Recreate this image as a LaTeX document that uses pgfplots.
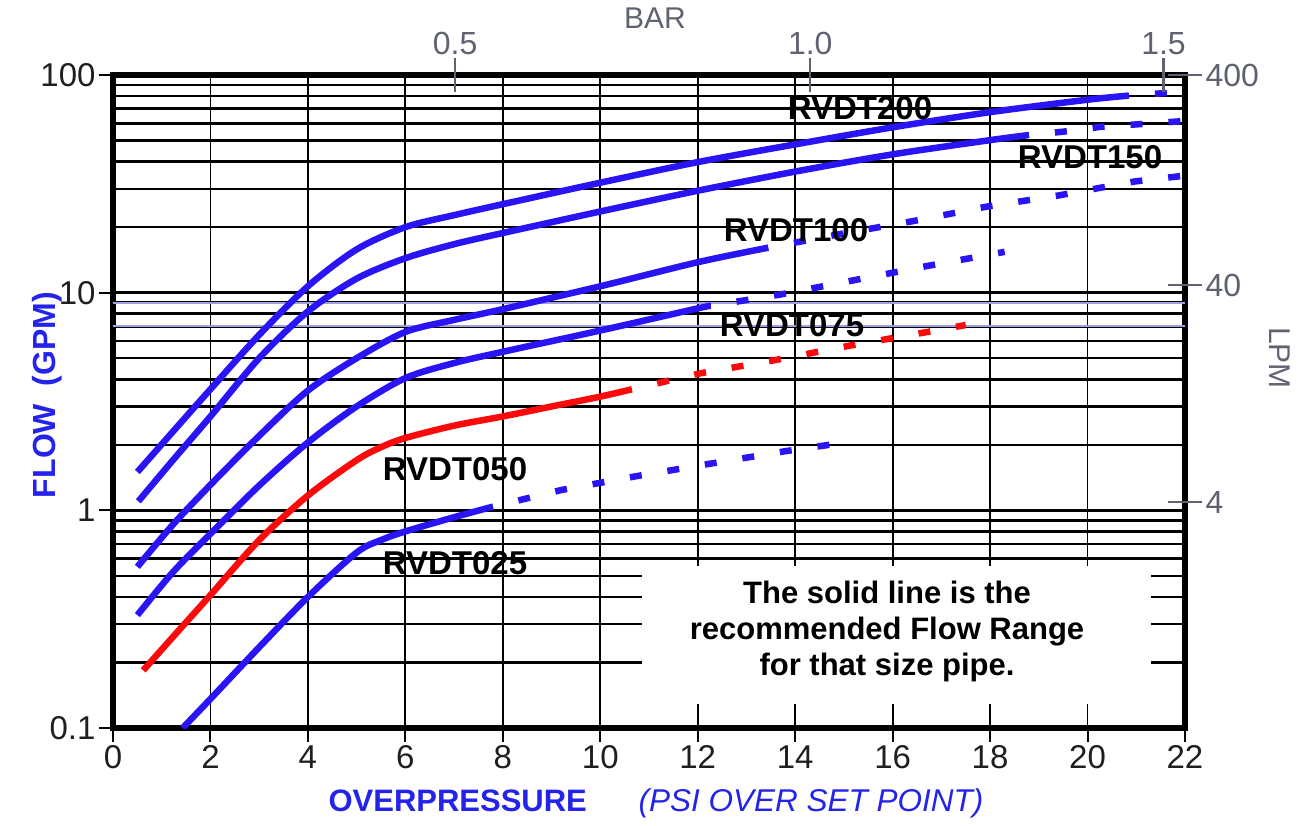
\documentclass[border=0pt]{standalone}
\usepackage{pgfplots}
\pgfplotsset{compat=1.18}
\usepackage{fontspec}
\setmainfont{Liberation Sans}

\definecolor{lineblue}{RGB}{40,20,245}
\definecolor{linered}{RGB}{250,10,10}
\definecolor{lblblue}{RGB}{35,35,235}
\definecolor{axgray}{RGB}{95,98,112}
\definecolor{gridblue}{RGB}{160,160,225}

\pgfplotsset{
  solidcurve/.style={line width=6.5pt, smooth, tension=0.5, line cap=butt, line join=round},
  dashcurve/.style={line width=6.5pt, dash pattern=on 12pt off 26pt, dash phase=12pt},
}

\begin{document}
\begin{tikzpicture}
\useasboundingbox (-113pt,-98pt) rectangle (1192pt,728pt);

% main axis: psi vs gpm
\begin{axis}[
  at={(0pt,0pt)}, anchor=south west,
  scale only axis, width=1072pt, height=653pt,
  xmin=0, xmax=22, ymin=0.1, ymax=100, ymode=log,
  axis line style={line width=6.5pt, black},
  xtick={0,2,...,22}, xtick pos=bottom,
  ytick={0.1,1,10,100}, yticklabels={0.1,1,10,100}, ytick pos=left,
  minor ytick={0.2,0.3,0.4,0.5,0.6,0.7,0.8,0.9,2,3,4,5,6,7,8,9,20,30,40,50,60,70,80,90},
  tick align=outside, major tick length=14pt, minor tick length=0pt,
  tick style={black, line width=2pt},
  xmajorgrids, ymajorgrids, yminorgrids,
  grid style={black, solid},
  x grid style={line width=1.9pt},
  y grid style={line width=2.6pt},
  tick label style={font=\fontsize{33}{36}\selectfont, text=black!88},
  /pgf/number format/assume math mode=true,
  clip=true,
]
% two faint rules in the middle decade
\draw[gridblue, line width=2.2pt] (axis cs:0,9) -- (axis cs:22,9);
\draw[gridblue, line width=2.2pt] (axis cs:0,7) -- (axis cs:22,7);

% note box
\fill[white] (axis cs:10.86,0.1285) rectangle (axis cs:21.3,0.553);

% RVDT200
\addplot[lineblue, solidcurve] coordinates {
 (0.5,1.5) (1.23,2.3) (2,3.6) (3,6.4) (4,10.7) (5,15.8) (6,20) (7,22.7)
 (8,25.5) (10,32) (12,39.8) (14,48) (16,57.5) (18,67.5) (20,77) (20.85,80.4)};
\addplot[lineblue, dashcurve] coordinates {(20.85,80.4) (21.9,83.5)};

% RVDT150
\addplot[lineblue, solidcurve] coordinates {
 (0.52,1.1) (1.23,1.7) (2,2.7) (3,5.0) (4,8.2) (5,11.6) (6,14.4) (7,16.7)
 (8,18.8) (10,23.6) (12,29.4) (14,36) (16,43.2) (18,50.2) (18.8,53)};
\addplot[lineblue, dashcurve] coordinates {(18.8,53) (19.5,54.9) (20.3,57.9) (21.0,59.3) (22,61.5)};

% RVDT100
\addplot[lineblue, solidcurve] coordinates {
 (0.5,0.55) (1.23,0.86) (2,1.31) (3,2.2) (4,3.55) (5,5.0) (6,6.6) (7,7.5)
 (8,8.4) (10,10.7) (12,13.8) (13.45,16.1)};
\addplot[lineblue, dashcurve] coordinates {
 (13.45,16.1) (14.87,18.5) (16.41,21.3) (17.91,24.8) (19.42,28.0) (20.96,32.4) (22,34.5)};

% RVDT075
\addplot[lineblue, solidcurve] coordinates {
 (0.5,0.33) (1.23,0.52) (2,0.78) (3,1.3) (4,2.05) (5,3.0) (6,4.05) (7,4.75)
 (8,5.35) (10,6.7) (12,8.47) (12.27,8.7)};
\addplot[lineblue, dashcurve] coordinates {
 (12.27,8.7) (13.69,9.8) (15.2,11.4) (16.74,13.3) (18.3,15.4)};

% RVDT050
\addplot[linered, solidcurve] coordinates {
 (0.62,0.184) (1.23,0.262) (2,0.408) (3,0.73) (4,1.17) (5,1.7) (5.5,1.95)
 (6,2.15) (7,2.45) (8,2.7) (9,3.0) (10,3.33) (10.65,3.6)};
\addplot[linered, dashcurve] coordinates {
 (10.65,3.6) (12.05,4.26) (13.59,4.9) (15.12,5.71) (16.63,6.55) (17.5,7.1)};

% RVDT025
\addplot[lineblue, solidcurve] coordinates {
 (1.43,0.1) (2,0.136) (3,0.235) (4,0.4) (5,0.64) (5.5,0.73) (6,0.8)
 (7,0.93) (7.8,1.04)};
\addplot[lineblue, dashcurve] coordinates {
 (7.8,1.04) (9.2,1.24) (10.7,1.43) (12.27,1.64) (13.8,1.87) (14.7,2.0)};
\end{axis}

% secondary scales: bar on top, lpm on right
\begin{axis}[
  at={(0pt,0pt)}, anchor=south west,
  scale only axis, width=1072pt, height=653pt,
  xmin=0, xmax=22, ymin=0.1, ymax=100, ymode=log,
  axis x line*=top, axis y line*=right, axis line style={draw=none},
  xtick={7.02,14.31,21.56}, xticklabels={0.5,1.0,1.5},
  ytick={1.09,10.8,100}, yticklabels={4,40,400},
  minor tick length=0pt,
  tick align=center, major tick length=34pt,
  tick style={axgray, line width=2.2pt},
  tick label style={font=\fontsize{32}{36}\selectfont, text=axgray},
]
\end{axis}

% axis titles
\node[axgray, font=\fontsize{30}{34}\selectfont] at (542pt,710pt) {BAR};
\node[axgray, font=\fontsize{30}{34}\selectfont, rotate=-90] at (1167pt,370pt) {LPM};
\node[lblblue, font=\fontsize{32}{34}\selectfont\bfseries, rotate=90] at (-66pt,333pt) {FLOW\ \ (GPM)};
\node[lblblue, font=\fontsize{31}{34}\selectfont\bfseries, anchor=base west] at (212pt,-84pt) {OVERPRESSURE};
\node[lblblue, font=\fontsize{31.5}{34}\selectfont\itshape, anchor=base west] at (522pt,-84pt) {(PSI OVER SET POINT)};

% curve names
\begin{scope}[font=\fontsize{33}{36}\selectfont\bfseries]
\node at (747pt,620pt) {RVDT200};
\node at (977pt,571pt) {RVDT150};
\node at (683pt,498pt) {RVDT100};
\node at (679pt,403pt) {RVDT075};
\node at (342pt,259pt) {RVDT050};
\node at (342pt,165pt) {RVDT025};
\end{scope}

% note
\node[align=center, font=\fontsize{31}{36}\selectfont\bfseries] at (774pt,97pt)
  {The solid line is the\\recommended Flow Range\\for that size pipe.};
\end{tikzpicture}
\end{document}
